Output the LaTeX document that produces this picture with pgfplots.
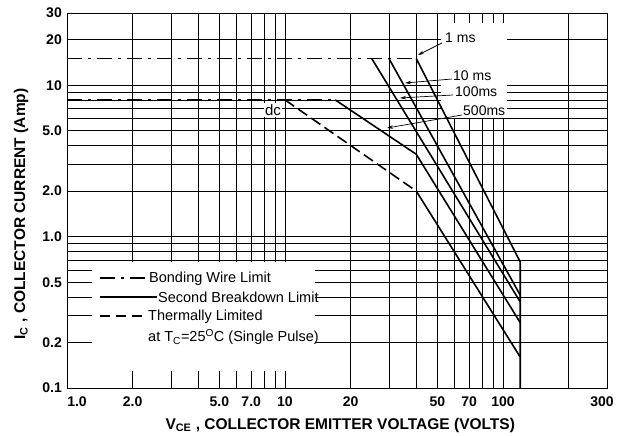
\documentclass[border=0pt]{standalone}
\usepackage{pgfplots}
\pgfplotsset{compat=1.18}
\usepackage{fontspec}
\setmainfont{Liberation Sans}
\usetikzlibrary{arrows.meta}
\begin{document}
\begin{tikzpicture}
\useasboundingbox (0,0) rectangle (618bp,436bp);
\begin{axis}[
  at={(67bp,48bp)}, anchor=south west,
  scale only axis, width=540bp, height=375bp,
  xmode=log, ymode=log,
  xmin=1, xmax=300, ymin=0.1, ymax=30,
  xtick={1,2,5,7,10,20,50,70,100,300},
  xticklabels={\hspace*{20bp}1.0,2.0,5.0,7.0,10,20,50,70,100,300\hspace*{10bp}},
  minor xtick={3,4,6,8,9,30,40,60,80,90,200},
  ytick={0.1,0.2,0.5,1,2,5,10,20,30},
  yticklabels={0.1,0.2,0.5,1.0,2.0,5.0,10,20,30},
  minor ytick={0.3,0.4,0.6,0.7,0.8,0.9,3,4,6,7,8,9},
  grid=both,
  major grid style={black, line width=0.7bp},
  minor grid style={black, line width=0.7bp},
  major tick length=0pt, minor tick length=0pt,
  axis line style={black, line width=0.9bp},
  tick label style={font=\fontsize{14bp}{16bp}\selectfont\bfseries, inner sep=0pt},
  xticklabel style={anchor=center, yshift=-14bp},
  yticklabel style={anchor=east, xshift=-5bp},
  xlabel={V\textsubscript{CE} , COLLECTOR EMITTER VOLTAGE (VOLTS)},
  ylabel={I\textsubscript{C} , COLLECTOR CURRENT (Amp)},
  label style={font=\fontsize{15.5bp}{18bp}\selectfont\bfseries},
  xlabel style={at={(axis description cs:0.506,-0.099)}, anchor=center},
  ylabel style={at={(axis description cs:-0.085,0.464)}, anchor=center},
  bw/.style={black, line width=1.6bp, dash pattern=on 15bp off 6bp on 3bp off 6bp},
  sb/.style={black, line width=1.6bp},
  th/.style={black, line width=1.6bp, dash pattern=on 11bp off 5bp},
]
\fill[white] (52,6.1) rectangle (104,25.6);
\fill[white] (1.3,0.13) rectangle (13.8,0.68);
% bonding wire limits
\addplot[bw] coordinates {(1,15) (40,15)};
\addplot[bw] coordinates {(1,8) (17,8)};
% 1 ms
\addplot[sb] coordinates {(40,15) (120,0.68) (120,0.1)};
% 10 ms
\addplot[sb] coordinates {(30,15) (120,0.41)};
% 100 ms
\addplot[sb] coordinates {(25,15) (120,0.37)};
% 500 ms
\addplot[sb] coordinates {(17,8) (40,3.5) (120,0.27)};
% dc
\addplot[th] coordinates {(10,8) (40,2)};
\addplot[sb] coordinates {(40,2) (120,0.16)};
\end{axis}
% legend
\draw[line width=1.5bp, dash pattern=on 15bp off 6bp on 3bp off 6bp] (100bp,158bp) -- (148bp,158bp);
\draw[line width=1.5bp] (100bp,139bp) -- (157bp,139bp);
\draw[line width=1.5bp, dash pattern=on 10bp off 6bp] (100bp,120bp) -- (147bp,120bp);
\begin{scope}[every node/.style={anchor=base west, inner sep=0pt, font=\fontsize{14.5bp}{17bp}\selectfont}]
\node at (149bp,153bp) {Bonding Wire Limit};
\node at (158bp,133bp) {Second Breakdown Limit};
\node at (148bp,115bp) {Thermally Limited};
\node at (148bp,94bp) {at T\textsubscript{C}=25\textsuperscript{O}C (Single Pulse)};
\end{scope}
% curve labels
\begin{scope}[every node/.style={anchor=base west, inner sep=0pt, font=\fontsize{14bp}{16bp}\selectfont}]
\node at (445bp,393bp) {1 ms};
\node at (453bp,355bp) {10 ms};
\node at (455bp,339bp) {100ms};
\node at (463bp,320bp) {500ms};
\end{scope}
\begin{scope}[line width=0.7bp, -{Stealth[length=6bp,width=3.5bp]}]
\draw (442bp,393bp) -- (418bp,381bp);
\draw (452bp,357bp) -- (405bp,353bp);
\draw (453bp,341bp) -- (400bp,338bp);
\draw (462bp,321bp) -- (387bp,308bp);
\end{scope}
\node[fill=white, inner sep=1bp, font=\fontsize{15bp}{17bp}\selectfont] at (273bp,326bp) {dc};
\end{tikzpicture}
\end{document}
